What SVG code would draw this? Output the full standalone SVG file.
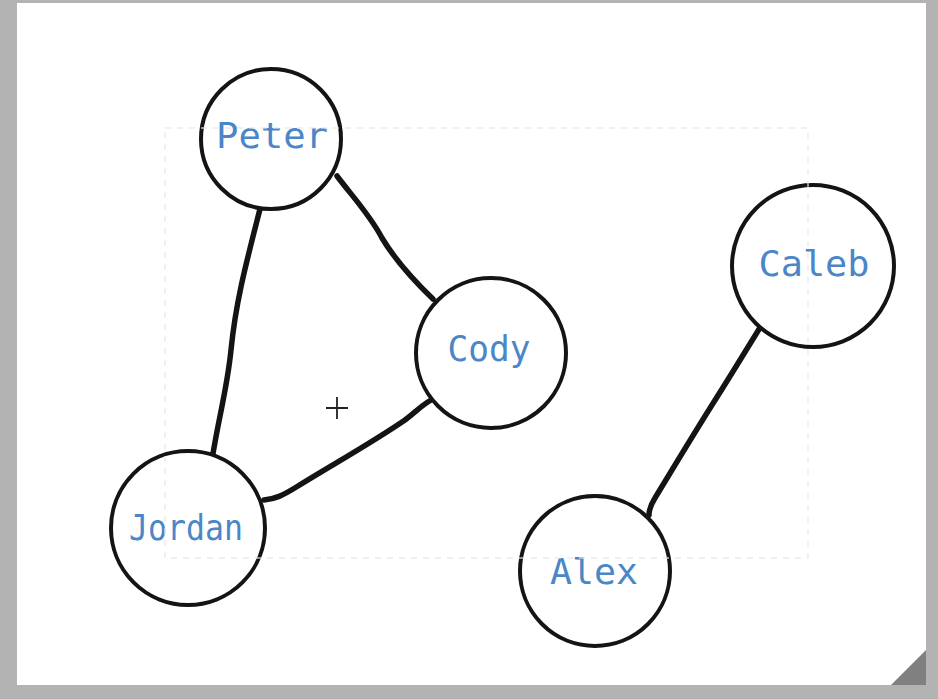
<svg xmlns="http://www.w3.org/2000/svg" width="938" height="699" viewBox="0 0 938 699">
<style>
.node circle{fill:#ffffff;stroke:#141414;stroke-width:4}
.node text{font-family:"DejaVu Sans Mono","Liberation Mono",monospace;font-size:35px;fill:#4a86c8;text-anchor:middle}
.edge{fill:none;stroke:#141414;stroke-width:5.5;stroke-linecap:round;stroke-linejoin:round}
</style>
<rect x="0" y="0" width="938" height="699" fill="#b3b3b3"/>
<rect x="17" y="3" width="909" height="682" fill="#ffffff"/>
<polygon points="891,685 926,650 926,685" fill="#808080"/>
<g id="connectors">
<path class="edge" d="M337,176 C352,196 370,215 382,238 C394,258 408,275 433,299"/>
<path class="edge" d="M260,209 C247,260 236,300 231,350 C227,390 218,420 212,460"/>
<path class="edge" d="M264,500 C275,499 282,496 298,486 C330,466 370,444 405,420 C418,410 425,402 435,398"/>
<path class="edge" d="M761,326 C745,352 728,380 712,405 C690,440 672,470 655,498 C650,506 649,510 649,515"/>
</g>
<g id="peter" class="node"><circle cx="271" cy="139" r="70"/><text x="272" y="148" textLength="112" lengthAdjust="spacingAndGlyphs">Peter</text></g>
<g id="cody" class="node"><circle cx="491" cy="353" r="75"/><text x="489" y="361" textLength="83" lengthAdjust="spacingAndGlyphs">Cody</text></g>
<g id="caleb" class="node"><circle cx="813" cy="266" r="81"/><text x="814" y="276" textLength="111" lengthAdjust="spacingAndGlyphs">Caleb</text></g>
<g id="jordan" class="node"><circle cx="188" cy="528" r="77"/><text x="186" y="540" textLength="114" lengthAdjust="spacingAndGlyphs">Jordan</text></g>
<g id="alex" class="node"><circle cx="595" cy="571" r="75"/><text x="594" y="584" textLength="88" lengthAdjust="spacingAndGlyphs">Alex</text></g>
<rect x="165" y="128" width="643" height="430" fill="none" stroke="#e6e6e6" stroke-width="1.5" stroke-dasharray="6,6" opacity="0.8"/>
<path d="M326,408 H348 M337,397 V419" stroke="#222222" stroke-width="1.8" fill="none"/>
</svg>
